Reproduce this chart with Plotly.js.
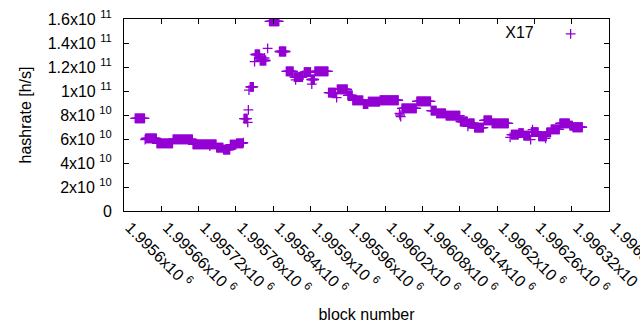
<!DOCTYPE html>
<html>
<head>
<meta charset="utf-8">
<script src="https://cdn.plot.ly/plotly-3.0.1.min.js"></script>
<style>html,body{margin:0;padding:0;background:#fff;}#chart{width:640px;height:330px;}</style>
</head>
<body>
<div id="chart"></div>
<script>
// Runs of (nearly) constant hashrate: first block, last block, hashrate [h/s]
const runFrom = [1995618,1995635,1995653,1995679,1995711,1995749,1995760,1995771,1995781,1995793,
  1995803,1995811,1995819,1995834,1995850,1995861,1995874,1995890,1995901,1995907,
  1995929,1995943,1995960,1995968,1995985,1995993,1996012,1996047,1996071,1996094,
  1996103,1996118,1996141,1996154,1996164,1996179,1996192,1996223,1996235,1996243,
  1996255,1996267,1996280,1996287,1996301,1996317,1996322];
const runTo   = [1995633,1995652,1995678,1995710,1995748,1995759,1995770,1995780,1995791,1995798,
  1995808,1995818,1995828,1995849,1995860,1995872,1995887,1995900,1995906,1995928,
  1995940,1995959,1995967,1995984,1995992,1996011,1996041,1996070,1996093,1996102,
  1996117,1996140,1996152,1996163,1996178,1996191,1996218,1996234,1996242,1996252,
  1996266,1996279,1996286,1996300,1996316,1996321,1996337];
const runRate = [77.2e9,60.6e9,56.4e9,59.7e9,55.6e9,52.8e9,51.2e9,55.3e9,56.4e9,77.0e9,
  103.5e9,130.4e9,125.4e9,158.1e9,132.9e9,116.4e9,111.5e9,115.8e9,109.6e9,116.4e9,
  98.7e9,101.3e9,96.4e9,92.2e9,89.1e9,91.2e9,92.3e9,85.6e9,91.3e9,83.7e9,
  81.3e9,79.5e9,74.6e9,72.9e9,69.4e9,75.6e9,73.1e9,63.7e9,64.9e9,62.8e9,
  65.8e9,62.2e9,65.5e9,68.0e9,73.1e9,71.1e9,69.8e9];
// Isolated blocks
const oneBlock = [1995634,1995738,1995792,1995799,1995800,1995801,1995810,1995826,1995831,1995876,
  1995888,1995902,1995942,1996043,1996044,1996045,1996153,1996221,1996254,1996257,1996278];
const oneRate  = [59.6e9,54.0e9,57.0e9,73.9e9,84.2e9,100.8e9,124.4e9,127.5e9,135.6e9,109.2e9,
  113.3e9,105.8e9,94.5e9,81.4e9,80.0e9,78.6e9,70.5e9,61.4e9,59.4e9,67.8e9,60.5e9];

const xTickVals = [1995600,1995660,1995720,1995780,1995840,1995900,1995960,1996020,1996080,1996140,1996200,1996260,1996320,1996380];
const xTickText = ['1.9956x10 <sup>6</sup>','1.99566x10 <sup>6</sup>','1.99572x10 <sup>6</sup>','1.99578x10 <sup>6</sup>',
  '1.99584x10 <sup>6</sup>','1.9959x10 <sup>6</sup>','1.99596x10 <sup>6</sup>','1.99602x10 <sup>6</sup>',
  '1.99608x10 <sup>6</sup>','1.99614x10 <sup>6</sup>','1.9962x10 <sup>6</sup>','1.99626x10 <sup>6</sup>',
  '1.99632x10 <sup>6</sup>','1.99638x10 <sup>6</sup>'];
const yTickVals = [0,2e10,4e10,6e10,8e10,1e11,1.2e11,1.4e11,1.6e11];
const yTickText = ['0','2x10 <sup>10</sup>','4x10 <sup>10</sup>','6x10 <sup>10</sup>','8x10 <sup>10</sup>',
  '1x10 <sup>11</sup>','1.2x10 <sup>11</sup>','1.4x10 <sup>11</sup>','1.6x10 <sup>11</sup>'];

const xs = [], ys = [];
for (let i = 0; i < runFrom.length; i++) {
  for (let b = runFrom[i]; b <= runTo[i]; b++) { xs.push(b); ys.push(runRate[i]); }
}
for (let i = 0; i < oneBlock.length; i++) { xs.push(oneBlock[i]); ys.push(oneRate[i]); }

const FONT = 'Liberation Sans, Arial, sans-serif';
const trace = {
  type: 'scatter', mode: 'markers', name: ' ', x: xs, y: ys,
  marker: {symbol: 'cross-thin', size: 7, color: '#9400d3', line: {color: '#9400d3', width: 1.3}},
  hovertemplate: 'X17<br>%{x}: %{y}<extra></extra>'
};
const axisCommon = {
  showline: true, linecolor: '#000', linewidth: 1, mirror: 'ticks',
  ticks: 'inside', ticklen: 5, tickcolor: '#000', tickwidth: 1,
  showgrid: false, zeroline: false, tickmode: 'array', ticklabeloverflow: 'allow',
  tickfont: {family: FONT, size: 16, color: '#000'}
};
const layout = {
  width: 640, height: 330,
  margin: {l: 124, r: 31, t: 19, b: 119, pad: 0},
  paper_bgcolor: '#fff', plot_bgcolor: '#fff',
  font: {family: FONT, size: 16, color: '#000'},
  showlegend: true,
  legend: {x: 0.782, y: 1.011, xanchor: 'left', yanchor: 'top', bgcolor: 'rgba(0,0,0,0)', borderwidth: 0,
    title: {text: 'X17&nbsp;&nbsp;', side: 'left', font: {family: FONT, size: 16, color: '#000'}},
    font: {family: FONT, size: 16, color: '#000'}},
  xaxis: Object.assign({}, axisCommon, {
    range: [1995600, 1996380], tickvals: xTickVals, ticktext: xTickText, tickangle: 45, ticklabelshift: 6,
    title: {text: 'block number', font: {family: FONT, size: 16, color: '#000'}, standoff: 12}
  }),
  yaxis: Object.assign({}, axisCommon, {
    range: [0, 1.6e11], tickvals: yTickVals, ticktext: yTickText, ticklabelstandoff: 8,
    title: {text: 'hashrate [h/s]', font: {family: FONT, size: 16, color: '#000'}, standoff: 12}
  })
};
Plotly.newPlot('chart', [trace], layout, {displayModeBar: false, staticPlot: true});
</script>
</body>
</html>
